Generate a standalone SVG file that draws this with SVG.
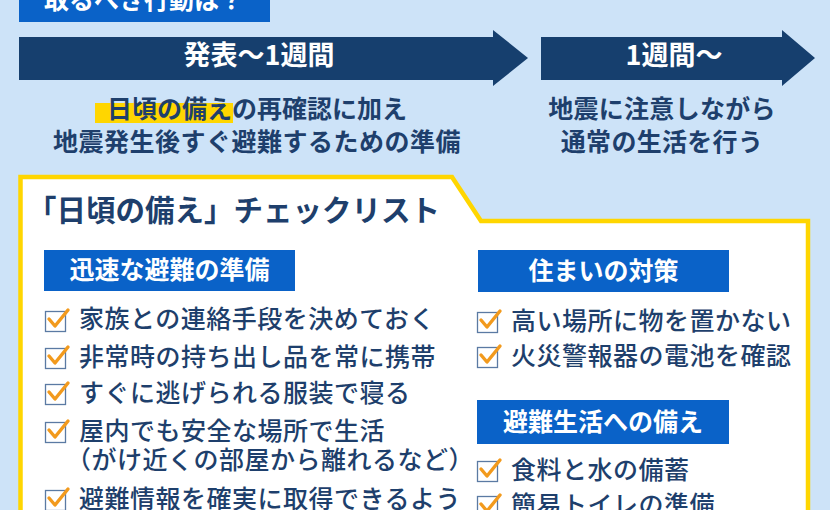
<svg xmlns="http://www.w3.org/2000/svg" width="830" height="510" viewBox="0 0 830 510">
<defs>
<style>
text{font-family:"Noto Sans CJK JP","Noto Sans CJK SC",sans-serif;}
.w{fill:#ffffff;font-weight:700;}
.n{fill:#1E3F6C;font-weight:700;}
.it{fill:#1E3F6C;font-weight:500;font-size:25px;letter-spacing:0.5px;}
.hd{fill:#0A62C8;}
.arr{fill:#163F6E;}
.cb{fill:#ffffff;stroke:#5B7AA3;stroke-width:1.3;}
.ck{fill:none;stroke:#F29A1D;stroke-width:3.4;stroke-linecap:round;stroke-linejoin:round;}
</style>
<g id="check">
<rect class="cb" x="0.5" y="0.5" width="20" height="20"/>
<path class="ck" d="M4 8 L10 15 L23 -1"/>
</g>
</defs>
<rect x="0" y="0" width="830" height="510" fill="#CDE3F8"/>

<g id="title-label">
<rect class="hd" x="19" y="-5" width="251" height="27"/>
<text class="w" x="144" y="9" font-size="25" text-anchor="middle">取るべき行動は？</text>
</g>

<g id="connectors">
<path id="arrow1" class="arr" d="M19 37 H493 V30 L528 58 L493 86 V80 H19 Z"/>
<path id="arrow2" class="arr" d="M541 37 H782 V30 L815 58 L782 86 V80 H541 Z"/>
</g>

<g id="phase1">
<text class="w" x="259" y="65" font-size="27" text-anchor="middle">発表〜1週間</text>
</g>
<g id="phase2">
<text class="w" x="674" y="65" font-size="27" text-anchor="middle">1週間〜</text>
</g>

<g id="desc1">
<rect x="95" y="103" width="138" height="20" fill="#FFD600"/>
<text class="n" x="257" y="118" font-size="25" text-anchor="middle">日頃の備えの再確認に加え</text>
<text class="n" x="257" y="151" font-size="25" text-anchor="middle" letter-spacing="0.5">地震発生後すぐ避難するための準備</text>
</g>
<g id="desc2">
<text class="n" x="662" y="118" font-size="25" text-anchor="middle" letter-spacing="0.3">地震に注意しながら</text>
<text class="n" x="662" y="151" font-size="25" text-anchor="middle" letter-spacing="0.3">通常の生活を行う</text>
</g>

<g id="checklist-panel">
<path d="M20.5 530 V177 H452 L481 221 H808 V530" fill="#ffffff" stroke="#FFD600" stroke-width="4.5"/>
<text class="n" x="27" y="221" font-size="29.5">「日頃の備え」チェックリスト</text>
</g>

<g id="section-evacuation">
<rect class="hd" x="44" y="250" width="251" height="41"/>
<text class="w" x="169.5" y="279" font-size="25" text-anchor="middle">迅速な避難の準備</text>
<use href="#check" x="45" y="311"/>
<text class="it" x="79" y="328">家族との連絡手段を決めておく</text>
<use href="#check" x="45" y="348"/>
<text class="it" x="79" y="366">非常時の持ち出し品を常に携帯</text>
<use href="#check" x="45" y="384"/>
<text class="it" x="79" y="402">すぐに逃げられる服装で寝る</text>
<use href="#check" x="45" y="422"/>
<text class="it" x="79" y="440">屋内でも安全な場所で生活</text>
<text class="it" x="66" y="469">（がけ近くの部屋から離れるなど）</text>
<use href="#check" x="45" y="490"/>
<text class="it" x="79" y="508">避難情報を確実に取得できるよう</text>
</g>

<g id="section-home">
<rect class="hd" x="478" y="250" width="251" height="42"/>
<text class="w" x="603.5" y="280" font-size="25" text-anchor="middle">住まいの対策</text>
<use href="#check" x="477" y="312"/>
<text class="it" x="511" y="330">高い場所に物を置かない</text>
<use href="#check" x="477" y="347"/>
<text class="it" x="511" y="365">火災警報器の電池を確認</text>
</g>

<g id="section-life">
<rect class="hd" x="477" y="400" width="252" height="44"/>
<text class="w" x="603" y="431" font-size="25" text-anchor="middle">避難生活への備え</text>
<use href="#check" x="477" y="461"/>
<text class="it" x="511" y="479">食料と水の備蓄</text>
<use href="#check" x="477" y="496"/>
<text class="it" x="511" y="514">簡易トイレの準備</text>
</g>
</svg>
